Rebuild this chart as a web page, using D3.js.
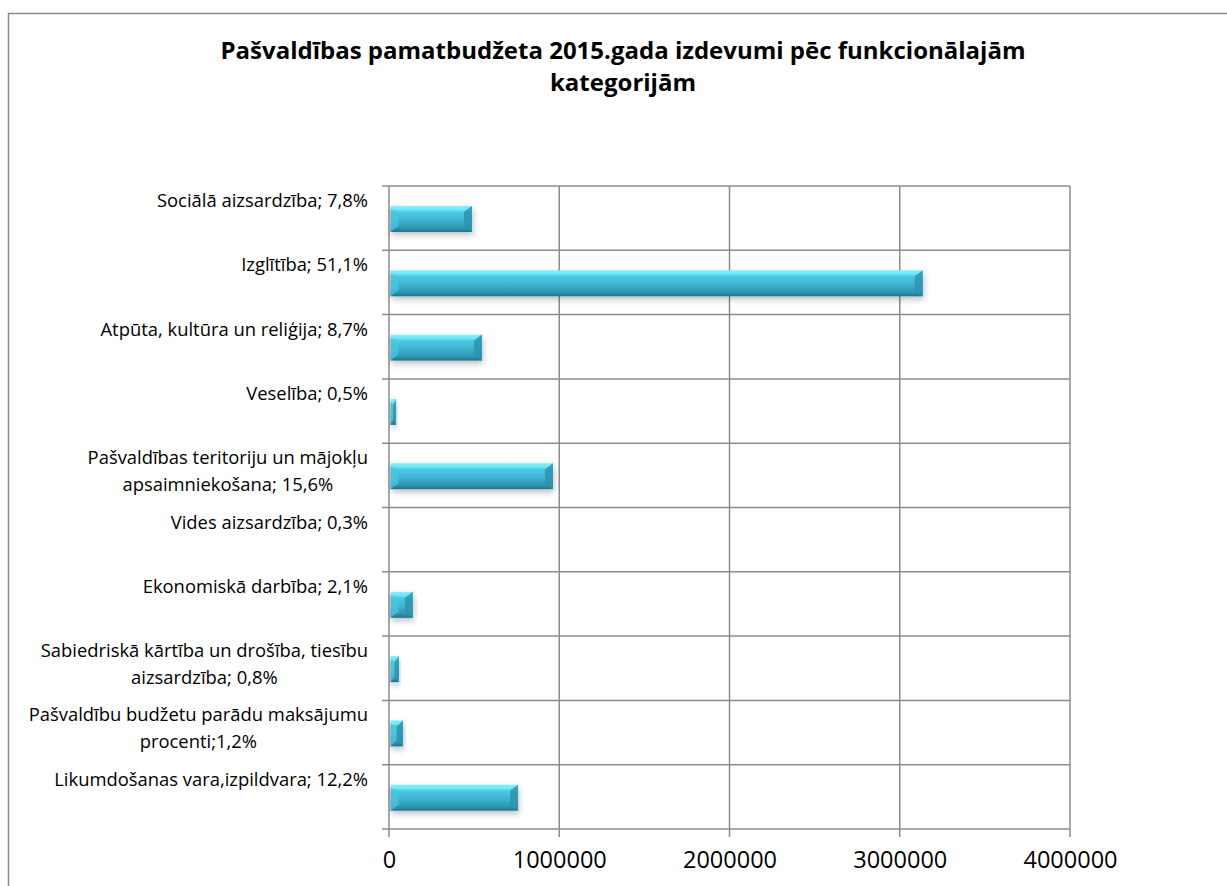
<!DOCTYPE html>
<html>
<head>
<meta charset="utf-8">
<script src="https://d3js.org/d3.v7.min.js"></script>
<style type="text/css">
	body { margin: 0; background: #fff; }
	svg { display: block; font-family: "Open Sans", sans-serif; }
</style>
</head>
<body>
<div id="chart"></div>
<script>

	var width = 1227;
	var height = 886;

	// data
	var titleLines = ["Pašvaldības pamatbudžeta 2015.gada izdevumi pēc funkcionālajām", "kategorijām"];
	var categories = [
		["Sociālā aizsardzība; 7,8%"],
		["Izglītība; 51,1%"],
		["Atpūta, kultūra un reliģija; 8,7%"],
		["Veselība; 0,5%"],
		["Pašvaldības teritoriju un mājokļu", "apsaimniekošana; 15,6%"],
		["Vides aizsardzība; 0,3%"],
		["Ekonomiskā darbība; 2,1%"],
		["Sabiedriskā kārtība un drošība, tiesību", "aizsardzība; 0,8%"],
		["Pašvaldību budžetu parādu maksājumu", "procenti;1,2%"],
		["Likumdošanas vara,izpildvara; 12,2%"]
	];
	var values = [487000, 3135000, 546000, 41000, 963000, 0, 140000, 58000, 82000, 758000];
	var tickValues = [0, 1000000, 2000000, 3000000, 4000000];

	var plot = { left: 389, right: 1070, top: 186, bottom: 829 };

	var svg = d3.select("#chart").append("svg")
		.attr("width", width)
		.attr("height", height);

	var defs = svg.append("defs");
	var grad = defs.append("linearGradient")
		.attr("id", "barGrad")
		.attr("x1", 0).attr("y1", 0).attr("x2", 0).attr("y2", 1);
	[[0, "#7cf4ff"], [0.14, "#6ae9fc"], [0.24, "#4ac9e3"], [0.55, "#3db4d0"], [0.82, "#3299b4"], [1, "#277389"]]
		.forEach(function (s) {
			grad.append("stop").attr("offset", s[0]).attr("stop-color", s[1]);
		});
	var shadow = defs.append("filter")
		.attr("id", "shadow")
		.attr("x", "-10%").attr("y", "-30%").attr("width", "130%").attr("height", "190%");
	shadow.append("feDropShadow")
		.attr("dx", 1).attr("dy", 3)
		.attr("stdDeviation", 3)
		.attr("flood-color", "#000")
		.attr("flood-opacity", 0.25);

	// chart frame
	svg.append("rect")
		.attr("x", 8.5).attr("y", 13.5)
		.attr("width", 1240).attr("height", 900)
		.attr("fill", "none")
		.attr("stroke", "#8a8a8a")
		.attr("stroke-width", 1.5);

	// title
	svg.append("text")
		.attr("text-anchor", "middle")
		.attr("font-weight", "bold")
		.attr("font-size", 24)
		.attr("fill", "#000")
		.selectAll("tspan")
		.data(titleLines)
		.enter().append("tspan")
		.attr("x", 623)
		.attr("y", function (d, i) { return 59 + i * 32; })
		.text(function (d) { return d; });

	var x = d3.scaleLinear()
		.domain([0, 4000000])
		.range([plot.left, plot.right]);

	var y = d3.scaleBand()
		.domain(d3.range(categories.length))
		.range([plot.top, plot.bottom]);

	var gridColor = "#8c8c8c";

	// horizontal grid (category boundaries) with ticks to the left
	var bounds = d3.range(categories.length + 1).map(function (i) { return plot.top + i * y.step(); });
	svg.append("g").selectAll("line")
		.data(bounds)
		.enter().append("line")
		.attr("x1", plot.left - 7).attr("x2", plot.right)
		.attr("y1", function (d) { return d; })
		.attr("y2", function (d) { return d; })
		.attr("stroke", gridColor)
		.attr("stroke-width", 1.5);

	// vertical grid and value axis ticks
	svg.append("g").selectAll("line")
		.data(tickValues)
		.enter().append("line")
		.attr("x1", function (d) { return x(d); })
		.attr("x2", function (d) { return x(d); })
		.attr("y1", plot.top)
		.attr("y2", plot.bottom + 8)
		.attr("stroke", gridColor)
		.attr("stroke-width", 1.5);

	var xAxis = svg.append("g")
		.attr("transform", "translate(0," + plot.bottom + ")")
		.call(d3.axisBottom(x).tickValues(tickValues).tickFormat(d3.format("d")).tickSize(0).tickPadding(22));
	xAxis.select(".domain").remove();
	xAxis.selectAll("text")
		.attr("font-family", "Open Sans, sans-serif")
		.attr("font-size", 23.5)
		.attr("fill", "#000");

	// category labels
	var labels = svg.append("g")
		.attr("font-size", 18.4)
		.attr("fill", "#000");
	categories.forEach(function (lines, i) {
		var t = labels.append("text").attr("text-anchor", "middle");
		t.selectAll("tspan")
			.data(lines)
			.enter().append("tspan")
			.attr("y", function (d, j) { return y(i) + 21 + j * 27; })
			.text(function (d) { return d; });
		var w = 0;
		t.selectAll("tspan").each(function () { w = Math.max(w, this.getComputedTextLength()); });
		t.selectAll("tspan").attr("x", 368 - w / 2);
	});

	// bars
	var barH = 26;
	var bars = svg.append("g").selectAll("g")
		.data(values)
		.enter().append("g")
		.filter(function (d) { return d > 0; })
		.attr("filter", "url(#shadow)");

	bars.append("rect")
		.attr("x", x(0) + 1.5)
		.attr("y", function (d, i) { return y(values.indexOf(d)) + 20; })
		.attr("width", function (d) { return x(d) - x(0) - 1.5; })
		.attr("height", barH)
		.attr("fill", "url(#barGrad)");

	// bevel facets
	bars.each(function (d) {
		var i = values.indexOf(d);
		var x0 = x(0) + 1.5, x1 = x(d), y0 = y(i) + 20, y1 = y0 + barH;
		var b = Math.min(8, (x1 - x0) / 2), v = 6;
		var g = d3.select(this);
		g.append("path")
			.attr("d", "M" + x0 + "," + (y0 + 3) + "L" + (x0 + b) + "," + (y0 + v) + "L" + (x0 + b) + "," + (y1 - v) + "L" + x0 + "," + y1 + "Z")
			.attr("fill", "#4cc6e0")
			.attr("opacity", 0.75);
		g.append("path")
			.attr("d", "M" + x1 + "," + y0 + "L" + (x1 - b) + "," + (y0 + v) + "L" + (x1 - b) + "," + (y1 - v) + "L" + x1 + "," + y1 + "Z")
			.attr("fill", "#2f93ad")
			.attr("opacity", 0.85);
	});

</script>
</body>
</html>
